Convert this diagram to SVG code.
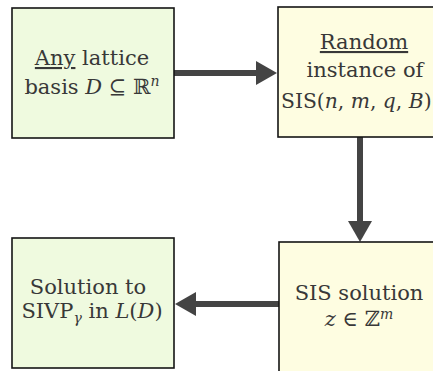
<svg xmlns="http://www.w3.org/2000/svg" width="433" height="371" viewBox="0 0 433 371">
  <style>
    .box { stroke: #141414; stroke-width: 1.6; }
    .green { fill: #effadf; }
    .yellow { fill: #fefde1; }
    .lbl { font-family: "DejaVu Serif", "Liberation Serif", serif; font-size: 21px; fill: #383838; text-anchor: middle; }
    .lbl.start { text-anchor: start; font-size: 20.3px; }
    .it { font-style: italic; }
    .u { text-decoration: underline; }
    .sup { font-style: italic; font-size: 14px; }
    .conn { stroke: #444; stroke-width: 6; fill: none; }
  </style>
  <defs>
    <marker id="head" markerUnits="userSpaceOnUse" markerWidth="21" markerHeight="24" refX="0" refY="12" orient="auto">
      <path d="M0,0 L21,12 L0,24 Z" fill="#444"/>
    </marker>
  </defs>

  <g id="connectors">
    <line class="conn" x1="174" y1="73" x2="256" y2="73" marker-end="url(#head)"/>
    <line class="conn" x1="360" y1="137" x2="360" y2="221" marker-end="url(#head)"/>
    <line class="conn" x1="279" y1="304" x2="196" y2="304" marker-end="url(#head)"/>
  </g>

  <g id="lattice-basis">
    <rect class="box green" x="12" y="8" width="162" height="130"/>
    <text class="lbl" x="92" y="65"><tspan class="u">Any</tspan> lattice</text>
    <text class="lbl" x="92" y="94">basis <tspan class="it">D</tspan> ⊆ ℝ<tspan class="sup" dy="-8">n</tspan></text>
  </g>

  <g id="sis-instance">
    <rect class="box yellow" x="278" y="7" width="170" height="130"/>
    <text class="lbl" x="364" y="49"><tspan class="u">Random</tspan></text>
    <text class="lbl" x="365" y="77">instance of</text>
    <text class="lbl start" x="281" y="108">SIS(<tspan class="it">n</tspan>, <tspan class="it">m</tspan>, <tspan class="it">q</tspan>, <tspan class="it">B</tspan>)</text>
  </g>

  <g id="sis-solution">
    <rect class="box yellow" x="279" y="242" width="170" height="140"/>
    <text class="lbl" x="359" y="300">SIS solution</text>
    <text class="lbl" x="359" y="326"><tspan class="it">z</tspan> ∈ ℤ<tspan class="sup" dy="-7">m</tspan></text>
  </g>

  <g id="sivp-solution">
    <rect class="box green" x="12" y="238" width="162" height="130"/>
    <text class="lbl" x="88" y="294">Solution to</text>
    <text class="lbl" x="92" y="318">SIVP<tspan class="sup" dy="5">γ</tspan><tspan dy="-5"> in </tspan><tspan class="it">L</tspan>(<tspan class="it">D</tspan>)</text>
  </g>
</svg>
